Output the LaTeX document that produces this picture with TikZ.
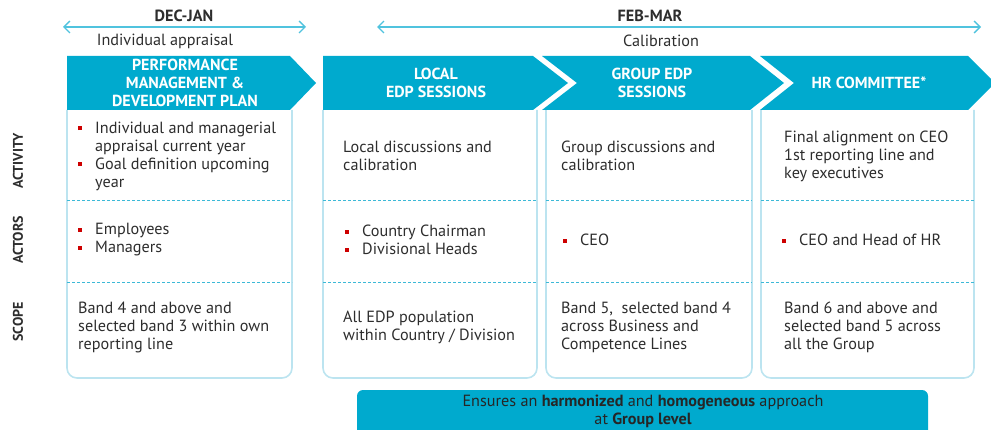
\documentclass[tikz,border=0pt]{standalone}
\usepackage{fontspec}
\setmainfont{PT Sans}
\usetikzlibrary{arrows.meta}
\definecolor{bannerc}{RGB}{0,170,206}
\definecolor{arrowc}{RGB}{80,195,222}
\definecolor{boxc}{RGB}{188,228,240}
\definecolor{dashc}{RGB}{60,185,215}
\definecolor{txtc}{RGB}{45,45,45}
\definecolor{bulred}{RGB}{205,0,0}
\newcommand\bsq{\textcolor{bulred}{\rule[3pt]{4pt}{4pt}}}
\newcommand\bl{\makebox[17pt][l]{\bsq}}
\newcommand\ind{\hspace*{17pt}}
\begin{document}
\begin{tikzpicture}[x=1pt,y=-1pt,
  every node/.style={inner sep=0pt, text=txtc},
  body/.style={font=\fontsize{16.2}{18}\selectfont, align=left, anchor=west},
  bantext/.style={font=\bfseries\fontsize{16}{18}\selectfont, align=center, text=white},
  rowlab/.style={font=\bfseries\fontsize{14}{16}\selectfont, rotate=90},
  head/.style={font=\bfseries\fontsize{16.2}{18}\selectfont},
  sub/.style={font=\fontsize{16.2}{18}\selectfont},
  timeline/.style={draw=arrowc, line width=1.4pt, {Straight Barb[length=6pt,width=12pt]}-{Straight Barb[length=6pt,width=12pt]}},
  boxline/.style={draw=boxc, line width=1.6pt, rounded corners=10pt},
  dashline/.style={draw=dashc, line width=0.9pt, dash pattern=on 3pt off 2pt},
  banner/.style={fill=bannerc}]
\useasboundingbox (0,0) rectangle (991,430);

% timelines
\node[head] (dj) at (184,16) {DEC-JAN};
\node[sub] (ia) at (165,41) {Individual appraisal};
\coordinate (djl) at (63,27);
\coordinate (djr) at (306,27);
\draw[timeline] (djl) -- (djr);
\node[head] (fm) at (650,16) {FEB-MAR};
\node[sub] (cal) at (661,41) {Calibration};
\coordinate (fml) at (377,27);
\coordinate (fmr) at (981,27);
\draw[timeline] (fml) -- (fmr);

% boxes
\draw[boxline] (67,110) -- (67,378) -- (292,378) -- (292,110);
\draw[boxline] (323,110) -- (323,378) -- (537,378) -- (537,110);
\draw[boxline] (546,110) -- (546,378) -- (752,378) -- (752,110);
\draw[boxline] (761,110) -- (761,378) -- (974,378) -- (974,110);
\foreach \a/\b in {67/292,323/537,546/752,761/974}{
  \draw[dashline] (\a,200) -- (\b,200);
  \draw[dashline] (\a,282) -- (\b,282);
}

% banners
\fill[banner] (67,56) -- (290,56) -- (316,83) -- (290,110) -- (67,110) -- cycle;
\fill[banner] (323,56) -- (533,56) -- (568,83) -- (533,110) -- (323,110) -- cycle;
\fill[banner] (542,56) -- (750,56) -- (784,83) -- (750,110) -- (542,110) -- (577,83) -- cycle;
\fill[banner] (760,56) -- (968,56) -- (995,83) -- (968,110) -- (760,110) -- (794,83) -- cycle;
\node[bantext] (b1) at (185,83) {PERFORMANCE\\MANAGEMENT \&\\DEVELOPMENT PLAN};
\node[bantext] (b2) at (436,83) {LOCAL\\EDP SESSIONS};
\node[bantext] (b3) at (652,83) {GROUP EDP\\SESSIONS};
\node[bantext] (b4) at (869,83) {HR COMMITTEE*};

% row labels
\node[rowlab] (lact) at (18,161) {ACTIVITY};
\node[rowlab] (lactors) at (18,240) {ACTORS};
\node[rowlab] (lscope) at (18,322) {SCOPE};

% column 1
\node[body] (a1) at (78,156) {\bl Individual and managerial\\\ind appraisal current year\\\bl Goal definition upcoming\\\ind year};
\node[body] (r1) at (78,240) {\bl Employees\\\bl Managers};
\node[body] (s1) at (78,327) {Band 4 and above and\\selected band 3 within own\\reporting line};
% column 2
\node[body] (a2) at (343,156) {Local discussions and\\calibration};
\node[body] (r2) at (345,240) {\bl Country Chairman\\\bl Divisional Heads};
\node[body] (s2) at (343,327) {All EDP population\\within Country / Division};
% column 3
\node[body] (a3) at (561,156) {Group discussions and\\calibration};
\node[body] (r3) at (563,240) {\bl CEO};
\node[body] (s3) at (561,327) {Band 5,\ \ selected band 4\\across Business and\\Competence Lines};
% column 4
\node[body] (a4) at (784,156) {Final alignment on CEO\\1st reporting line and\\key executives};
\node[body] (r4) at (782,240) {\bl CEO and Head of HR};
\node[body] (s4) at (784,327) {Band 6 and above and\\selected band 5 across\\all the Group};

% bottom box
\fill[bannerc, rounded corners=6pt] (357,390) rectangle (928,450);
\node[font=\fontsize{16.2}{18}\selectfont, align=center, text=black!85] (bot) at (643,411)
  {Ensures an \textbf{harmonized} and \textbf{homogeneous} approach\\at \textbf{Group level}};
\end{tikzpicture}
\end{document}
